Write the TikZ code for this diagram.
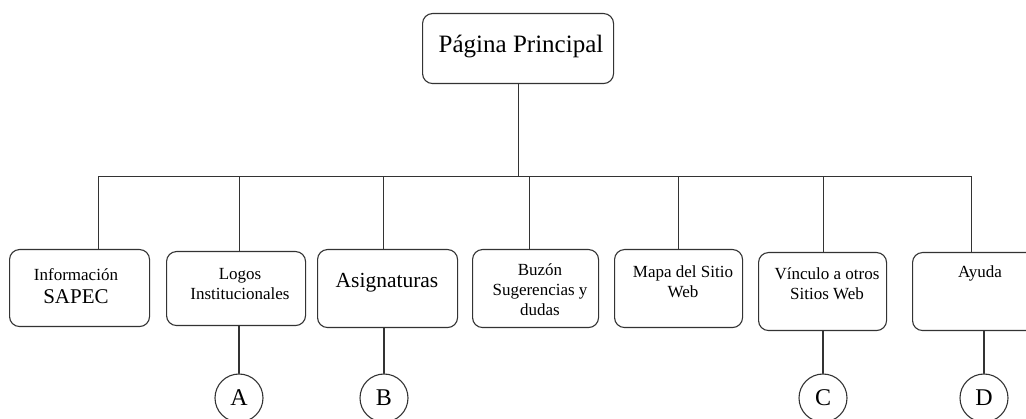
\documentclass[tikz,border=0pt]{standalone}
\usepackage{fontspec}
\setmainfont{Liberation Serif}
\colorlet{linegray}{black!80}

\tikzset{
  pagebox/.style={draw=linegray, line width=1.1pt, rounded corners=10pt, anchor=north west, inner sep=0pt},
  boxtext/.style={anchor=base, align=center, inner sep=0pt, font=\fontsize{17}{20}\selectfont},
  letter/.style={draw=linegray, line width=1.1pt, circle, minimum size=48pt, inner sep=0pt, font=\fontsize{24}{28}\selectfont},
  link/.style={draw=linegray, line width=1.1pt}
}

\begin{document}
\begin{tikzpicture}[x=1pt,y=-1pt,cap=round]
  \useasboundingbox (0,0) rectangle (1026,419);

  % draw the main page
  \node[pagebox, minimum width=191pt, minimum height=70pt] (top) at (422,13) {};
  \node[boxtext, font=\fontsize{25}{28}\selectfont] (top-t) at (521,53) {Página Principal};

  % draw the sections (text placed by the baseline of its last line)
  \node[pagebox, minimum width=140pt, minimum height=77pt] (info) at (9,249) {};
  \node[boxtext] (info-t) at (76,304) {Información\\[3pt]{\fontsize{21}{24}\selectfont SAPEC}};
  \node[pagebox, minimum width=139pt, minimum height=74pt] (logos) at (166,251) {};
  \node[boxtext] (logos-t) at (240,300) {Logos\\Institucionales};
  \node[pagebox, minimum width=140pt, minimum height=78pt] (asig) at (317,249) {};
  \node[boxtext, font=\fontsize{21.5}{24}\selectfont] (asig-t) at (387,288) {Asignaturas};
  \node[pagebox, minimum width=126pt, minimum height=78pt] (buzon) at (472,249) {};
  \node[boxtext] (buzon-t) at (540,316) {Buzón\\Sugerencias y\\dudas};
  \node[pagebox, minimum width=128pt, minimum height=78pt] (mapa) at (614,249) {};
  \node[boxtext] (mapa-t) at (683,298) {Mapa del Sitio\\Web};
  \node[pagebox, minimum width=128pt, minimum height=78pt] (vinculo) at (758,252) {};
  \node[boxtext] (vinculo-t) at (827,300) {Vínculo a otros\\Sitios Web};
  \node[pagebox, minimum width=128pt, minimum height=78pt] (ayuda) at (912,252) {};
  \node[boxtext] (ayuda-t) at (980,278) {Ayuda};

  % draw the tree lines
  \coordinate (bus) at ([yshift=-92pt]top.south);
  \draw[link] (top.south) -- (bus);
  \foreach \n/\dx in {info/19, logos/3, asig/-4, buzon/-6, mapa/0, vinculo/1, ayuda/-5} {
    \draw[link] ([xshift=\dx pt]\n.north) |- (bus);
  }

  % draw the connectors
  \node[letter] (a) at (239,398) {A};
  \node[letter] (b) at (384,398) {B};
  \node[letter] (c) at (823,398) {C};
  \node[letter] (d) at (984,398) {D};
  \foreach \l/\n in {a/logos, b/asig, c/vinculo, d/ayuda} {
    \draw[link] (\l.north) -- (\l.north |- \n.south);
  }
\end{tikzpicture}
\end{document}
